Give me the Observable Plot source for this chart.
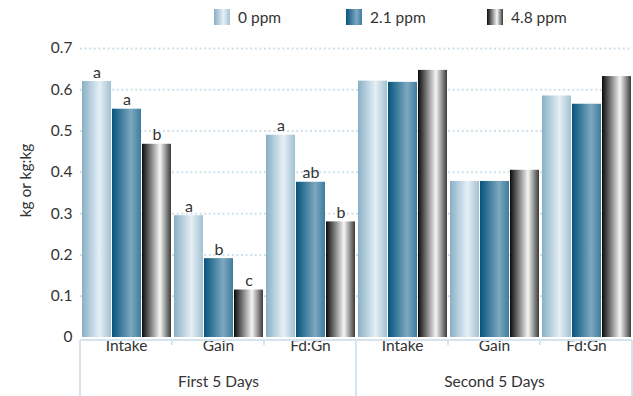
<!DOCTYPE html>
<html><head><meta charset="utf-8">
<script src="https://cdn.jsdelivr.net/npm/d3@7"></script>
<script src="https://cdn.jsdelivr.net/npm/@observablehq/plot@0.6"></script>
<style>
body{margin:0;background:#fff;font-family:Lato,"Open Sans",sans-serif;}
#wrap{position:relative;width:633px;height:396px;overflow:hidden;}
#legend{position:absolute;top:0;left:0;width:633px;height:36px;z-index:2;}
.item{position:absolute;top:9px;display:flex;align-items:center;font-size:15.5px;line-height:16px;color:#333;}
.sw{width:16px;height:16px;margin-right:8px;}
#chart{position:absolute;top:0;left:0;}
</style></head><body>
<div id="wrap"><div id="legend"></div><div id="chart"></div></div>
<script>
// ---- data ----
const periods = ["First 5 Days", "Second 5 Days"];
const measures = ["Intake", "Gain", "Fd:Gn"];
const doses = ["0 ppm", "2.1 ppm", "4.8 ppm"];
// order: First (Intake, Gain, Fd:Gn), Second (Intake, Gain, Fd:Gn)
const dose0 = [0.620, 0.295, 0.490, 0.621, 0.378, 0.585];
const dose21 = [0.553, 0.191, 0.376, 0.618, 0.378, 0.565];
const dose48 = [0.468, 0.115, 0.280, 0.647, 0.405, 0.632];
const letters0 = ["a", "a", "a", "", "", ""];
const letters21 = ["a", "b", "ab", "", "", ""];
const letters48 = ["b", "c", "b", "", "", ""];
const yTickCount = 7;
const yLabel = "kg or kg:kg";

// gradient definitions (colors only)
const gradients = [
  {id: "g0", stops: [[0, "#88b0c6"], [0.6, "#e6eff5"], [1, "#a2c1d3"]]},
  {id: "g1", stops: [[0, "#06557d"], [0.66, "#7ea8c0"], [1, "#3d7c9d"]]},
  {id: "g2", stops: [[0, "#0a0a0a"], [0.62, "#f6f6f6"], [1, "#3a3a3a"]]}
];

const series = [dose0, dose21, dose48];
const letters = [letters0, letters21, letters48];
const rows = [], labelRows = [], periodRows = [];
const keys = [];
periods.forEach((p, pi) => measures.forEach((m, mi) => {
  const i = pi * measures.length + mi;
  const key = p + "|" + m;
  keys.push(key);
  labelRows.push({key, measure: m});
  if (mi === 1) periodRows.push({key, period: p});
  doses.forEach((d, di) => rows.push({key, period: p, measure: m, dose: d, value: series[di][i], letter: letters[di][i]}));
}));

// legend
const legend = document.getElementById("legend");
const legendLeft = [214, 346, 487];
doses.forEach((d, i) => {
  const g = gradients[i];
  const item = document.createElement("div");
  item.className = "item";
  item.style.left = legendLeft[i] + "px";
  const sw = document.createElement("div");
  sw.className = "sw";
  sw.style.background = `linear-gradient(to right, ${g.stops.map(s => s[1] + " " + (s[0] * 100) + "%").join(", ")})`;
  const t = document.createElement("span");
  t.textContent = d;
  item.append(sw, t);
  legend.append(item);
});

const plot = Plot.plot({
  width: 633, height: 396,
  marginTop: 48, marginBottom: 59, marginLeft: 79, marginRight: 1,
  style: {fontFamily: "Lato, 'Open Sans', sans-serif", fontSize: "15.5px", color: "#333", background: "transparent"},
  fx: {domain: keys, padding: 0, axis: null},
  x: {domain: doses, paddingInner: 0.045, paddingOuter: 0.01, axis: null},
  y: {domain: [0, 0.7], ticks: yTickCount, tickFormat: d => d === 0 ? "0" : d.toFixed(1), tickSize: 0, tickPadding: 8,
      label: null},
  color: {domain: doses, range: gradients.map(g => `url(#${g.id})`)},
  marks: [
    Plot.ruleY(d3.ticks(0, 0.7, yTickCount).filter(d => d > 0), {stroke: "#cfe0ea", strokeWidth: 2, strokeDasharray: "2 2.6"}),
    Plot.barY(rows, {fx: "key", x: "dose", y: "value", fill: "dose"}),
    Plot.text(rows.filter(r => r.letter), {fx: "key", x: "dose", y: "value", text: "letter", dy: -4, lineAnchor: "bottom", fontSize: 16, fill: "#333"}),
    Plot.text(labelRows, {fx: "key", text: "measure", frameAnchor: "bottom", dy: 13, fontSize: 15.5, fill: "#333"}),
    Plot.text(periodRows, {fx: "key", text: "period", frameAnchor: "bottom", dy: 49, fontSize: 15.5, fill: "#333"})
  ]
});

document.getElementById("chart").append(plot);

// gradients
const svg = d3.select(plot.tagName.toLowerCase() === "svg" ? plot : plot.querySelector("svg"));
const defs = svg.insert("defs", ":first-child");
gradients.forEach(g => {
  const lg = defs.append("linearGradient").attr("id", g.id).attr("x1", 0).attr("x2", 1).attr("y1", 0).attr("y2", 0);
  g.stops.forEach(s => lg.append("stop").attr("offset", s[0]).attr("stop-color", s[1]));
});

// table-like x axis frame, from scales
const fx = plot.scale("fx"), y = plot.scale("y");
const y0 = y.apply(0) + 3;
const lineColor = "#d5e4ee";
const tbl = svg.append("g").attr("stroke", lineColor).attr("stroke-width", 2).attr("fill", "none");
const xStart = fx.apply(keys[0]);
const xEnd = fx.apply(keys[keys.length - 1]) + fx.bandwidth;
tbl.append("line").attr("x1", xStart).attr("x2", xEnd).attr("y1", y0).attr("y2", y0);
keys.forEach((k, i) => {
  const x = fx.apply(k);
  const long = i % measures.length === 0;
  tbl.append("line").attr("x1", x).attr("x2", x).attr("y1", y0).attr("y2", long ? 396 : y0 + 5);
});
tbl.append("line").attr("x1", xEnd).attr("x2", xEnd).attr("y1", y0).attr("y2", 396);

// y-axis title (rotated), placed from the y scale
const yMid = (y.apply(0) + y.apply(0.7)) / 2 - 12;
svg.append("text")
  .attr("transform", `translate(25,${yMid}) rotate(-90)`)
  .attr("text-anchor", "middle").attr("dominant-baseline", "central")
  .attr("fill", "#333").attr("font-size", "15.5px")
  .attr("font-family", "Lato, 'Open Sans', sans-serif")
  .text(yLabel);
</script>
</body></html>
